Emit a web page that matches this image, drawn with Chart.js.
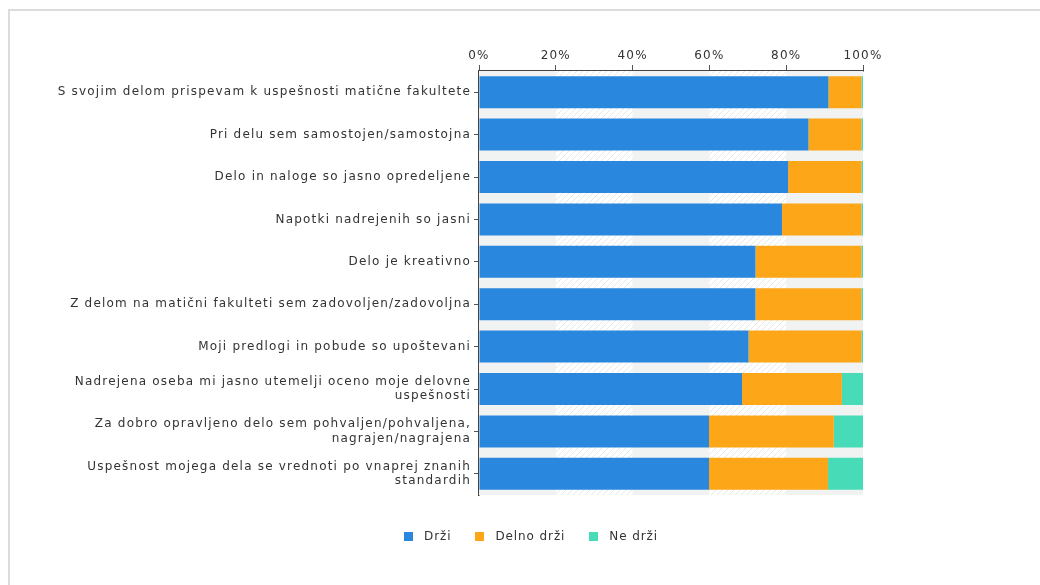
<!DOCTYPE html>
<html>
<head>
<meta charset="utf-8">
<script src="https://cdn.jsdelivr.net/npm/chart.js@4"></script>
<style>
  html, body { margin: 0; padding: 0; background: #fff; }
  #wrap { position: relative; width: 1040px; height: 585px; overflow: hidden; }
  #frame { position: absolute; left: 8px; top: 9px; width: 1100px; height: 700px; border: 2px solid #dcdcdc; box-sizing: border-box; }
  #myChart { position: absolute; left: 0; top: 0; }
  #legend { position: absolute; left: 404px; top: 529px; display: flex; align-items: center;
            font: 12px "DejaVu Sans", Verdana, sans-serif; letter-spacing: 0.9px; color: #333; }
  #legend .item { display: flex; align-items: center; margin-right: 24px; }
  #legend .box { width: 9px; height: 9px; margin-right: 11px; }
</style>
</head>
<body>
<div id="wrap">
  <div id="frame"></div>
  <canvas id="myChart" width="1040" height="585"></canvas>
  <div id="legend"></div>
</div>
<script>
// categories (top to bottom)
const labels = [
  'S svojim delom prispevam k uspešnosti matične fakultete',
  'Pri delu sem samostojen/samostojna',
  'Delo in naloge so jasno opredeljene',
  'Napotki nadrejenih so jasni',
  'Delo je kreativno',
  'Z delom na matični fakulteti sem zadovoljen/zadovoljna',
  'Moji predlogi in pobude so upoštevani',
  ['Nadrejena oseba mi jasno utemelji oceno moje delovne', 'uspešnosti'],
  ['Za dobro opravljeno delo sem pohvaljen/pohvaljena,', 'nagrajen/nagrajena'],
  ['Uspešnost mojega dela se vrednoti po vnaprej znanih', 'standardih'],
];

// series values (%)
const drzi = [91.0, 85.8, 80.5, 78.9, 72.0, 72.0, 70.2, 68.5, 59.9, 59.9];
const delnoDrzi = [8.6, 13.8, 19.1, 20.7, 27.6, 27.6, 29.4, 26.0, 32.5, 31.0];
const neDrzi = [0.4, 0.4, 0.4, 0.4, 0.4, 0.4, 0.4, 5.5, 7.6, 9.1];

const seriesNames = ['Drži', 'Delno drži', 'Ne drži'];
const seriesColors = ['#2a87de', '#fca618', '#47dcb7'];

const xTicks = [0, 20, 40, 60, 80, 100];

const ctx = document.getElementById('myChart');

// wider letter spacing like the original
const spacing = {
  id: 'spacing',
  afterInit(chart) { chart.ctx.letterSpacing = '1.2px'; },
  beforeUpdate(chart) { chart.ctx.letterSpacing = '1.2px'; },
  beforeDraw(chart) { chart.ctx.letterSpacing = '1.2px'; },
};

// light plot background with hatched 20-40 / 60-80 columns
const plotBg = {
  id: 'plotBg',
  beforeDatasetsDraw(chart) {
    const { ctx, chartArea: a, scales: { x } } = chart;
    ctx.save();
    ctx.fillStyle = '#f1f2f2';
    ctx.fillRect(a.left, a.top, a.right - a.left, a.bottom - a.top);
    const p = document.createElement('canvas');
    p.width = 6; p.height = 6;
    const pc = p.getContext('2d');
    pc.fillStyle = '#ffffff';
    pc.fillRect(0, 0, 6, 6);
    pc.strokeStyle = '#e6e7e7';
    pc.lineWidth = 1;
    pc.beginPath();
    pc.moveTo(0, 6); pc.lineTo(6, 0);
    pc.stroke();
    ctx.fillStyle = ctx.createPattern(p, 'repeat');
    [[20, 40], [60, 80]].forEach(([s, e]) => {
      const x0 = x.getPixelForValue(s);
      const x1 = x.getPixelForValue(e);
      ctx.fillRect(x0, a.top, x1 - x0, a.bottom - a.top);
    });
    ctx.restore();
  },
};

Chart.defaults.font.family = '"DejaVu Sans", Verdana, sans-serif';
Chart.defaults.font.size = 12;
Chart.defaults.color = '#333';

const chart = new Chart(ctx, {
  type: 'bar',
  data: {
    labels: labels,
    datasets: [
      { label: seriesNames[0], data: drzi, backgroundColor: seriesColors[0] },
      { label: seriesNames[1], data: delnoDrzi, backgroundColor: seriesColors[1] },
      { label: seriesNames[2], data: neDrzi, backgroundColor: seriesColors[2] },
    ],
  },
  plugins: [spacing, plotBg],
  options: {
    indexAxis: 'y',
    responsive: false,
    animation: false,
    layout: { padding: { left: 0, right: 177, top: 0, bottom: 90 } },
    datasets: { bar: { barPercentage: 0.755, categoryPercentage: 1 } },
    scales: {
      x: {
        position: 'top',
        stacked: true,
        min: 0,
        max: 100,
        afterBuildTicks(scale) {
          scale.ticks = xTicks.map((v) => ({ value: v }));
        },
        afterFit(scale) { scale.height = 71; },
        ticks: { callback: (v) => v + '%', padding: 2, maxRotation: 0 },
        grid: { drawOnChartArea: false, tickLength: 6, color: '#555' },
        border: { color: '#444', width: 1.5 },
      },
      y: {
        stacked: true,
        afterFit(scale) { scale.width = 479; },
        ticks: { padding: 3, autoSkip: false },
        grid: { drawOnChartArea: false, offset: false, tickLength: 5, color: '#555' },
        border: { color: '#444', width: 1.5 },
      },
    },
    plugins: {
      legend: { display: false },
      tooltip: { enabled: false },
    },
  },
});

// HTML legend built from the series
const legend = document.getElementById('legend');
chart.data.datasets.forEach((ds) => {
  const item = document.createElement('div');
  item.className = 'item';
  const box = document.createElement('span');
  box.className = 'box';
  box.style.background = ds.backgroundColor;
  const txt = document.createElement('span');
  txt.textContent = ds.label;
  item.appendChild(box);
  item.appendChild(txt);
  legend.appendChild(item);
});
</script>
</body>
</html>
